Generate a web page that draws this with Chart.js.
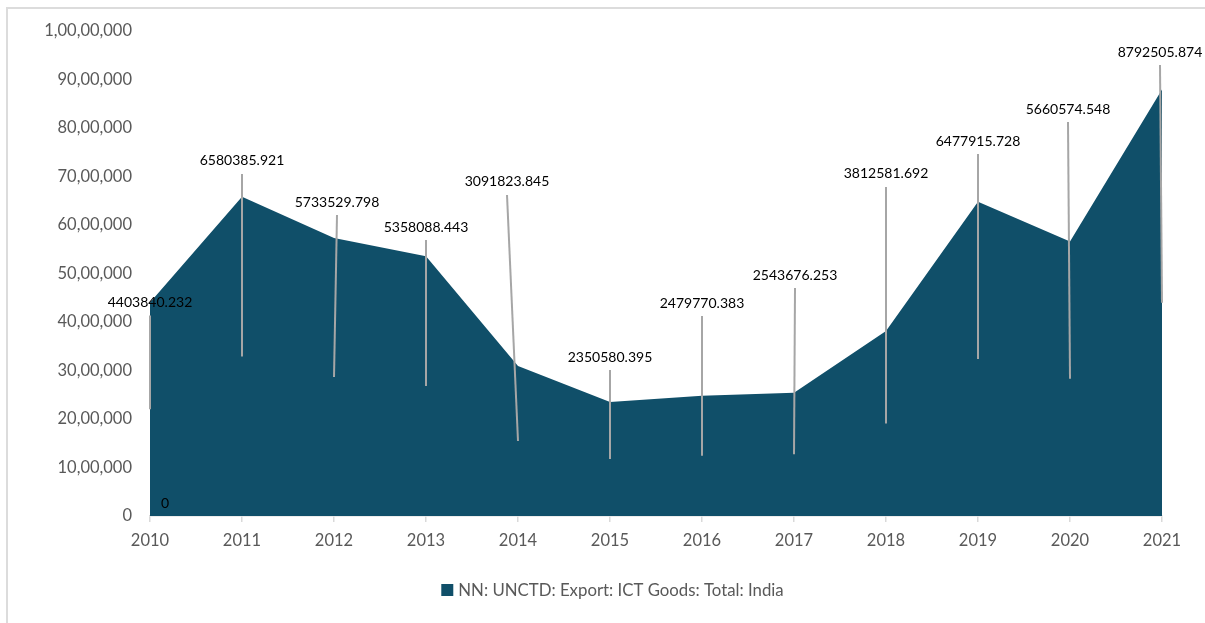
<!DOCTYPE html>
<html>
<head>
<meta charset="utf-8">
<script src="https://cdn.jsdelivr.net/npm/chart.js@4.4.1/dist/chart.umd.min.js"></script>
<style>
  html, body { margin: 0; padding: 0; background: #ffffff; }
  #wrap { position: relative; width: 1205px; height: 623px; }
  canvas { display: block; }
</style>
</head>
<body>
<div id="wrap"><canvas id="chart" width="1205" height="623"></canvas></div>
<script>
// Years on the category axis
const years = ['2010', '2011', '2012', '2013', '2014', '2015', '2016', '2017', '2018', '2019', '2020', '2021'];

// ICT goods exports, India (UNCTD)
const exportValues = [4403840.232, 6580385.921, 5733529.798, 5358088.443, 3091823.845, 2350580.395,
                      2479770.383, 2543676.253, 3812581.692, 6477915.728, 5660574.548, 8792505.874];

const seriesName = 'NN: UNCTD: Export: ICT Goods: Total: India';

// Value axis range
const yMin = 0;
const yMax = 10000000;
const yStep = 1000000;

// Where each value callout sits (in axis units) and its sideways nudge in px
const calloutLevels = [4403840, 7320000, 6474000, 5959000, 6887000, 3278000,
                       4392000, 4969000, 7052000, 7732000, 8392000, 9567000];
const calloutShift = [0, 0, 3, 0, -11, 0, 0, 1, 0, 0, -2, -2];

// Stray baseline label near the first year
const baseLabelText = '0';
const baseLabelValue = 268000;

const AREA = '#104F69';
const MUTED = '#595959';

// Indian digit grouping: 1,00,00,000
function groupIN(n) {
  const s = String(Math.round(n));
  if (s.length <= 3) return s;
  const last3 = s.slice(-3);
  const rest = s.slice(0, -3).replace(/\B(?=(\d{2})+(?!\d))/g, ',');
  return rest + ',' + last3;
}

const framePlugin = {
  id: 'frame',
  beforeDraw(chart) {
    const ctx = chart.ctx;
    ctx.save();
    ctx.fillStyle = '#ffffff';
    ctx.fillRect(0, 0, chart.width, chart.height);
    ctx.fillStyle = '#dcdcdc';
    ctx.fillRect(6, 7, chart.width - 6, 2);
    ctx.fillRect(6, 7, 2, chart.height - 7);
    ctx.restore();
  }
};

const calloutPlugin = {
  id: 'callouts',
  afterDatasetsDraw(chart) {
    const ctx = chart.ctx;
    const xs = chart.scales.x;
    const ys = chart.scales.y;
    ctx.save();
    ctx.font = '14px Lato';
    ctx.textAlign = 'center';
    ctx.textBaseline = 'middle';
    exportValues.forEach((v, i) => {
      const px = xs.getPixelForValue(i);
      const lx = px + calloutShift[i];
      const ly = ys.getPixelForValue(calloutLevels[i]);
      const bottom = ys.getPixelForValue(v / 2);
      ctx.strokeStyle = '#a6a6a6';
      ctx.lineWidth = 2;
      ctx.beginPath();
      ctx.moveTo(lx, ly + 13);
      ctx.lineTo(px, bottom);
      ctx.stroke();
      ctx.fillStyle = '#000000';
      ctx.fillText(String(v), lx, ly);
    });
    const bx = xs.getPixelForValue(0) + 15;
    const by = ys.getPixelForValue(baseLabelValue);
    ctx.fillText(baseLabelText, bx, by);
    ctx.restore();
  }
};

// Series key below the axis, centred under the plot
const keyPlugin = {
  id: 'seriesKey',
  afterDraw(chart) {
    const ctx = chart.ctx;
    const ds = chart.data.datasets[0];
    ctx.save();
    ctx.font = '16.8px Lato';
    ctx.textBaseline = 'middle';
    ctx.textAlign = 'left';
    const tw = ctx.measureText(ds.label).width;
    const box = 12, gap = 5;
    const total = box + gap + tw;
    const cx = 612.5;
    const cy = chart.chartArea.bottom + 74;
    const x0 = cx - total / 2;
    ctx.fillStyle = ds.backgroundColor;
    ctx.fillRect(x0, cy - box / 2, box, box);
    ctx.fillStyle = MUTED;
    ctx.fillText(ds.label, x0 + box + gap, cy + 1);
    ctx.restore();
  }
};

new Chart(document.getElementById('chart'), {
  type: 'line',
  data: {
    labels: years,
    datasets: [{
      label: seriesName,
      data: exportValues,
      fill: 'origin',
      backgroundColor: AREA,
      borderColor: AREA,
      borderWidth: 0,
      pointRadius: 0,
      tension: 0
    }]
  },
  options: {
    responsive: false,
    animation: false,
    layout: { padding: { top: 31, right: 43, left: 0, bottom: 66 } },
    scales: {
      x: {
        offset: false,
        grid: { drawOnChartArea: false, drawTicks: true, tickLength: 6, color: '#d9d9d9', lineWidth: 1.5 },
        border: { display: true, color: '#d9d9d9', width: 1.5 },
        ticks: { color: MUTED, font: { family: 'Lato', size: 16.5 }, padding: 9, maxRotation: 0 },
        afterFit(scale) { scale.height = 41; }
      },
      y: {
        min: yMin,
        max: yMax,
        grid: { display: false, drawTicks: false },
        border: { display: false },
        ticks: {
          stepSize: yStep,
          color: MUTED,
          font: { family: 'Lato', size: 16.5 },
          padding: 18,
          callback: (v) => groupIN(v)
        },
        afterFit(scale) { scale.width = 150; }
      }
    },
    plugins: {
      tooltip: { enabled: false },
      legend: { display: false }
    }
  },
  plugins: [framePlugin, calloutPlugin, keyPlugin]
});
</script>
</body>
</html>
